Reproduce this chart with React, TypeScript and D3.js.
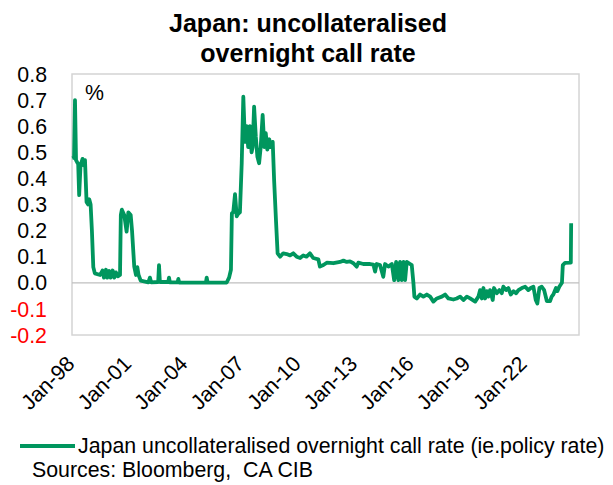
import React from "react";
import * as d3 from "d3";

const titleLines = ["Japan: uncollateralised", "overnight call rate"];
const legendLabel = "Japan uncollateralised overnight call rate (ie.policy rate)";
const sourceLabel = "Sources: Bloomberg,  CA CIB";
const unitLabel = "%";

const yTicks = [0.8, 0.7, 0.6, 0.5, 0.4, 0.3, 0.2, 0.1, 0.0, -0.1, -0.2];
const xTickYears = [1998, 2001, 2004, 2007, 2010, 2013, 2016, 2019, 2022];

const dates = [
  "1998-01-05", "1998-02-10", "1998-02-28", "1998-03-20", "1998-04-15", "1998-05-01", "1998-05-20", "1998-06-15",
  "1998-07-25", "1998-08-20", "1998-09-10", "1998-10-10", "1998-11-10", "1998-12-01", "1998-12-28", "1999-01-22",
  "1999-02-18", "1999-03-20", "1999-07-01", "1999-08-15", "1999-09-12", "1999-10-22", "1999-11-15", "1999-12-25",
  "2000-01-20", "2000-02-28", "2000-03-30", "2000-05-01", "2000-06-08", "2000-07-20", "2000-08-05", "2000-08-25",
  "2000-10-10", "2000-11-25", "2000-12-28", "2001-02-12", "2001-03-10", "2001-04-22", "2001-05-25", "2001-06-20",
  "2001-07-15", "2001-08-25", "2002-01-20", "2002-02-20", "2002-03-15", "2002-07-30", "2002-08-15", "2002-09-01",
  "2003-02-10", "2003-02-25", "2003-03-15", "2003-08-10", "2003-08-25", "2003-09-10", "2005-02-10", "2005-02-25",
  "2005-03-15", "2006-03-20", "2006-05-05", "2006-06-10", "2006-06-28", "2006-07-25", "2006-08-28", "2006-09-30",
  "2006-10-30", "2006-12-01", "2007-01-05", "2007-02-05", "2007-03-08", "2007-04-10", "2007-05-10", "2007-06-12",
  "2007-07-15", "2007-08-05", "2007-09-02", "2007-10-05", "2007-11-05", "2007-12-08", "2008-01-08", "2008-02-15",
  "2008-03-18", "2008-04-15", "2008-05-15", "2008-06-22", "2008-07-18", "2008-08-28", "2008-09-24", "2008-10-30",
  "2008-12-01", "2009-01-18", "2009-03-20", "2009-05-25", "2009-07-30", "2009-10-01", "2009-12-05", "2010-02-10",
  "2010-04-12", "2010-06-15", "2010-08-20", "2010-10-22", "2011-01-30", "2011-03-01", "2011-05-08", "2011-07-12",
  "2011-11-18", "2012-03-25", "2012-05-30", "2012-08-02", "2012-10-05", "2012-12-10", "2013-02-12", "2013-03-15",
  "2013-06-20", "2013-10-30", "2014-01-01", "2014-02-03", "2014-03-05", "2014-05-10", "2014-07-12", "2014-08-15",
  "2014-10-18", "2014-12-25", "2015-02-08", "2015-03-18", "2015-05-01", "2015-06-02", "2015-07-05", "2015-08-08",
  "2015-09-08", "2015-10-10", "2015-12-15", "2016-01-15", "2016-02-16", "2016-03-06", "2016-04-22", "2016-06-25",
  "2016-08-28", "2016-11-02", "2017-01-05", "2017-03-10", "2017-05-15", "2017-08-20", "2017-10-22", "2017-12-25",
  "2018-04-01", "2018-06-05", "2018-08-10", "2018-10-12", "2018-12-18", "2019-02-20", "2019-05-28", "2019-07-30",
  "2019-09-02", "2019-10-05", "2019-11-05", "2019-12-08", "2020-01-08", "2020-02-10", "2020-03-12", "2020-05-03",
  "2020-05-28", "2020-07-20", "2020-09-10", "2020-10-25", "2020-11-25", "2021-01-18", "2021-03-02", "2021-04-18",
  "2021-06-10", "2021-07-30", "2021-09-14", "2021-11-18", "2022-01-22", "2022-03-25", "2022-05-10", "2022-07-01",
  "2022-08-15", "2022-09-15", "2022-10-25", "2022-12-10", "2023-01-25", "2023-03-18", "2023-05-20", "2023-06-20",
  "2023-07-22", "2023-09-12", "2023-10-08", "2023-11-15", "2024-01-05", "2024-01-22", "2024-03-05", "2024-06-25",
  "2024-07-02",
];

const rates = [
  0.477, 0.48, 0.70, 0.47, 0.46, 0.455, 0.336, 0.45,
  0.475, 0.45, 0.47, 0.31, 0.30, 0.32, 0.30, 0.20,
  0.06, 0.036, 0.03, 0.047, 0.02, 0.05, 0.02, 0.045,
  0.02, 0.047, 0.02, 0.04, 0.025, 0.03, 0.26, 0.28,
  0.26, 0.196, 0.27, 0.26, 0.20, 0.062, 0.03, 0.06,
  0.03, 0.008, 0.002, 0.02, 0.002, 0.003, 0.068, 0.003,
  0.003, 0.02, 0.002, 0.002, 0.015, 0.001, 0.001, 0.02,
  0.001, 0.001, 0.02, 0.05, 0.266, 0.27, 0.34, 0.255,
  0.265, 0.27, 0.458, 0.713, 0.54, 0.60, 0.52, 0.60,
  0.50, 0.52, 0.675, 0.56, 0.483, 0.458, 0.52, 0.643,
  0.52, 0.573, 0.51, 0.55, 0.52, 0.54, 0.394, 0.24,
  0.113, 0.10, 0.113, 0.11, 0.105, 0.113, 0.10, 0.095,
  0.105, 0.10, 0.113, 0.095, 0.09, 0.062, 0.068, 0.077,
  0.075, 0.08, 0.085, 0.08, 0.082, 0.075, 0.062, 0.077,
  0.072, 0.072, 0.07, 0.043, 0.072, 0.068, 0.023, 0.072,
  0.062, 0.072, 0.01, 0.08, 0.01, 0.08, 0.01, 0.08,
  0.01, 0.08, 0.072, 0.068, 0.0, -0.053, -0.06, -0.045,
  -0.053, -0.045, -0.053, -0.072, -0.06, -0.053, -0.045, -0.06,
  -0.064, -0.06, -0.053, -0.066, -0.053, -0.06, -0.072, -0.053,
  -0.028, -0.06, -0.02, -0.06, -0.032, -0.053, -0.028, -0.066,
  -0.02, -0.04, -0.028, -0.04, -0.015, -0.028, -0.02, -0.045,
  -0.032, -0.04, -0.028, -0.02, -0.015, -0.028, -0.02, -0.015,
  -0.066, -0.079, -0.02, -0.015, -0.028, -0.07, -0.07, -0.053,
  -0.045, -0.02, -0.032, -0.015, 0.0, 0.068, 0.076, 0.077,
  0.228,
];

const W = 613;
const H = 485;
const FONT = "'Liberation Sans', Arial, sans-serif";
const GREEN = "#00965E";
const FS = 21.33;

export default function App() {
  const parse = d3.timeParse("%Y-%m-%d");
  const data = dates.map((d, i) => ({ date: parse(d) as Date, value: rates[i] }));

  const plot = { left: 72, right: 579, top: 74, bottom: 335 };

  const x = d3
    .scaleTime()
    .domain([new Date(1998, 0, 1), new Date(2024, 11, 1)])
    .range([plot.left, plot.right]);
  const y = d3.scaleLinear().domain([-0.2, 0.8]).range([plot.bottom, plot.top]);

  const line = d3
    .line<{ date: Date; value: number }>()
    .x((d) => x(d.date))
    .y((d) => y(d.value));

  return (
    <svg
      width={W}
      height={H}
      style={{ position: "absolute", left: 0, top: 0, background: "#fff" }}
      fontFamily={FONT}
    >
      <rect x={0} y={0} width={W} height={H} fill="#fff" />
      {titleLines.map((t, i) => (
        <text
          key={t}
          x={308}
          y={32 + i * 30}
          textAnchor="middle"
          fontSize={25}
          fontWeight="bold"
          fill="#000"
        >
          {t}
        </text>
      ))}

      <rect
        x={plot.left}
        y={plot.top}
        width={plot.right - plot.left}
        height={plot.bottom - plot.top}
        fill="none"
        stroke="#D4D4D4"
        strokeWidth={1.5}
      />
      <line x1={plot.left} x2={plot.right} y1={y(0)} y2={y(0)} stroke="#BFBFBF" strokeWidth={1.2} />

      {yTicks.map((t) => (
        <text
          key={t}
          x={47}
          y={y(t)}
          dy="0.36em"
          textAnchor="end"
          fontSize={FS}
          fill={t < 0 ? "#FF0000" : "#000"}
        >
          {t.toFixed(1)}
        </text>
      ))}

      {xTickYears.map((yr) => {
        const px = x(new Date(yr, 0, 1)) + 4;
        return (
          <text
            key={yr}
            transform={`translate(${px},365) rotate(-45)`}
            textAnchor="end"
            fontSize={FS}
            fill="#000"
          >
            {`Jan-${String(yr).slice(2)}`}
          </text>
        );
      })}

      <text x={85} y={100} fontSize={FS} fill="#000">
        {unitLabel}
      </text>

      <path d={line(data) || ""} fill="none" stroke={GREEN} strokeWidth={3.8} strokeLinejoin="round" />

      <line x1={20} x2={75} y1={446} y2={446} stroke={GREEN} strokeWidth={3.8} />
      <text x={78} y={453} fontSize={FS} fill="#000">
        {legendLabel}
      </text>
      <text x={32} y={477} fontSize={FS} fill="#000" style={{ whiteSpace: "pre" }}>
        {sourceLabel}
      </text>
    </svg>
  );
}
